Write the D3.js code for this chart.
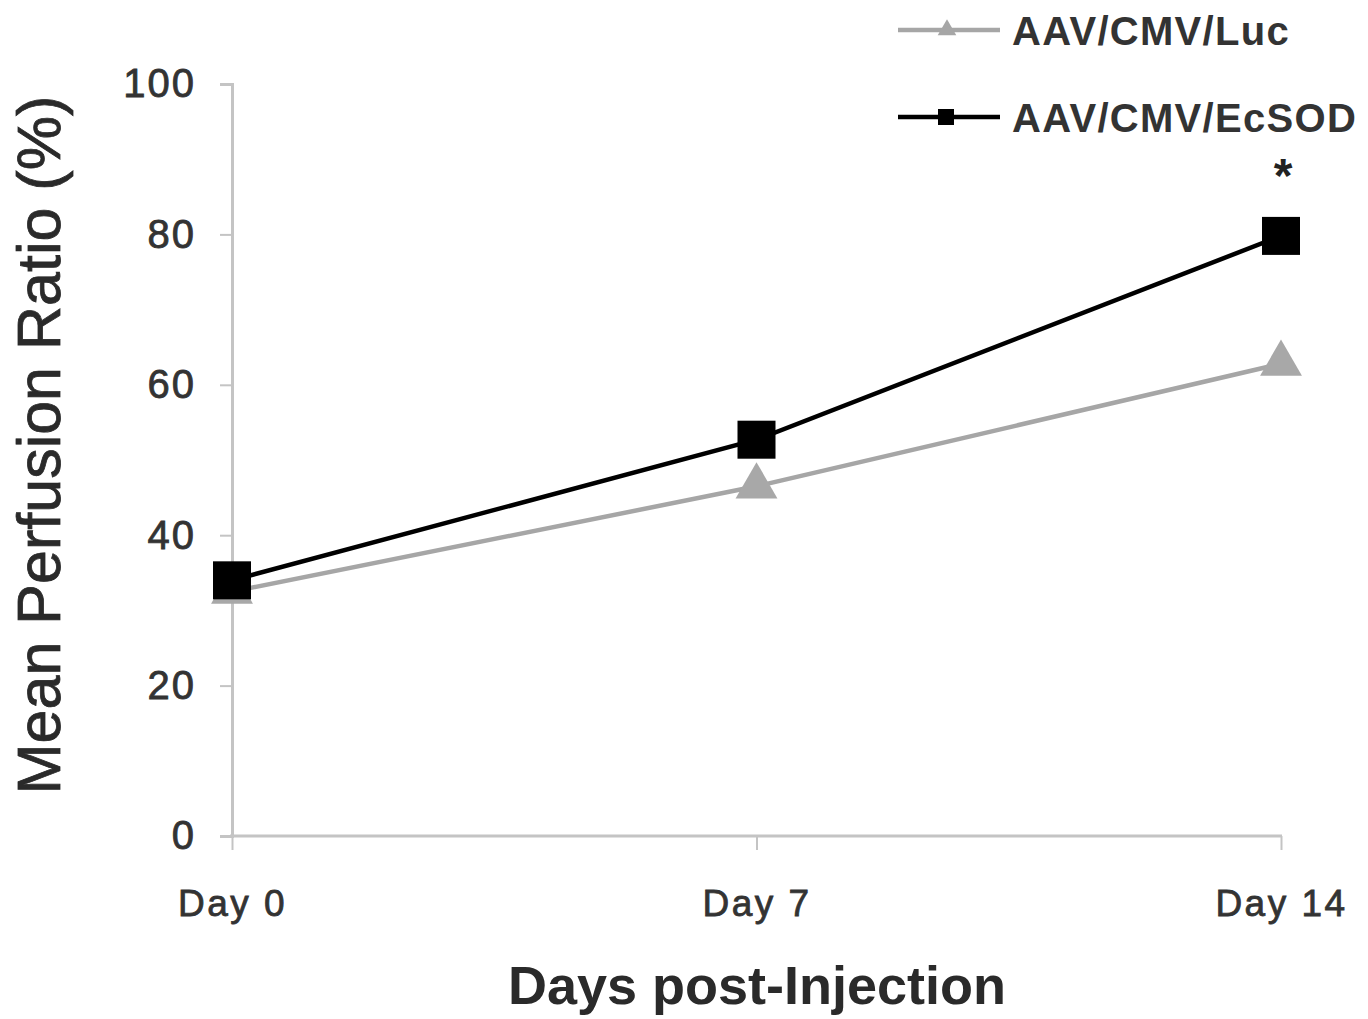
<!DOCTYPE html>
<html>
<head>
<meta charset="utf-8">
<script src="https://cdn.jsdelivr.net/npm/d3@7"></script>
<style>
  body { margin: 0; background: #fff; }
  text { font-family: "Liberation Sans", Arial, sans-serif; }
</style>
</head>
<body>
<script>
// data
const days = ["Day 0", "Day 7", "Day 14"];
const lucValues = [32.5, 46.5, 62.8];
const ecsodValues = [34.0, 52.7, 79.8];
const yTicks = [0, 20, 40, 60, 80, 100];
const seriesNames = ["AAV/CMV/Luc", "AAV/CMV/EcSOD"];

const w = 1368, h = 1019;
const svg = d3.select("body").append("svg").attr("width", w).attr("height", h);

const x = d3.scalePoint().domain(days).range([232, 1281]);
const y = d3.scaleLinear().domain([0, 100]).range([836, 84]);

const axisCol = "#c4c4c4";
const labelCol = "#333";

// y axis
const yAxis = svg.append("g").attr("transform", "translate(232,0)")
  .call(d3.axisLeft(y).tickValues(yTicks).tickSize(12).tickPadding(24));
yAxis.select(".domain").attr("stroke", axisCol).attr("stroke-width", 3);
yAxis.selectAll(".tick line").attr("stroke", axisCol).attr("stroke-width", 2);
yAxis.selectAll(".tick text").attr("fill", labelCol).attr("font-size", 40)
  .attr("font-family", "Liberation Sans, Arial, sans-serif").attr("letter-spacing", 2)
  .attr("stroke", labelCol).attr("stroke-width", 0.8);

// x axis
const xAxis = svg.append("g").attr("transform", "translate(0,836)")
  .call(d3.axisBottom(x).tickSizeInner(14).tickSizeOuter(0).tickPadding(40));
xAxis.select(".domain").attr("stroke", axisCol).attr("stroke-width", 3)
  .attr("d", "M230,0H1282");
xAxis.selectAll(".tick line").attr("stroke", axisCol).attr("stroke-width", 2);
xAxis.selectAll(".tick text").attr("fill", labelCol).attr("font-size", 37)
  .attr("font-family", "Liberation Sans, Arial, sans-serif").attr("letter-spacing", 2.5)
  .attr("stroke", labelCol).attr("stroke-width", 0.8);

// titles
svg.append("text")
  .attr("transform", "translate(60,445) rotate(-90)")
  .attr("text-anchor", "middle")
  .attr("font-size", 61)
  .attr("fill", "#2a2a2a")
  .attr("stroke", "#2a2a2a").attr("stroke-width", 0.8)
  .text("Mean Perfusion Ratio (%)");

svg.append("text")
  .attr("x", 757).attr("y", 1004)
  .attr("text-anchor", "middle")
  .attr("font-size", 54)
  .attr("font-weight", "bold")
  .attr("fill", "#2a2a2a")
  .text("Days post-Injection");

const line = d3.line().x((d, i) => x(days[i])).y(d => y(d));
const tri = d3.symbol().type(d3.symbolTriangle);

// Luc series (gray, triangles)
svg.append("path").datum(lucValues).attr("d", line)
  .attr("fill", "none").attr("stroke", "#a6a6a6").attr("stroke-width", 4.5);
svg.selectAll(".luc").data(lucValues).enter().append("path")
  .attr("class", "luc")
  .attr("transform", (d, i) => `translate(${x(days[i])},${y(d)})`)
  .attr("d", tri.size(760))
  .attr("fill", "#a8a8a8");

// EcSOD series (black, squares)
svg.append("path").datum(ecsodValues).attr("d", line)
  .attr("fill", "none").attr("stroke", "#000").attr("stroke-width", 4.5);
const sq = 38;
svg.selectAll(".ec").data(ecsodValues).enter().append("rect")
  .attr("class", "ec")
  .attr("x", (d, i) => x(days[i]) - sq / 2)
  .attr("y", d => y(d) - sq / 2)
  .attr("width", sq).attr("height", sq)
  .attr("fill", "#000");

// significance marker
svg.append("text")
  .attr("x", x(days[2]) + 2).attr("y", 192)
  .attr("text-anchor", "middle")
  .attr("font-size", 48).attr("font-weight", "bold")
  .attr("fill", "#222")
  .text("*");

// legend
const legend = svg.append("g");
const legY = [30, 117];
const legCols = ["#a6a6a6", "#000"];
legend.selectAll("line").data(seriesNames).enter().append("line")
  .attr("x1", 898).attr("x2", 1000)
  .attr("y1", (d, i) => legY[i]).attr("y2", (d, i) => legY[i])
  .attr("stroke", (d, i) => legCols[i]).attr("stroke-width", 4.5);
legend.append("path")
  .attr("transform", `translate(947,${legY[0]})`)
  .attr("d", d3.symbol().type(d3.symbolTriangle).size(150))
  .attr("fill", legCols[0]);
legend.append("rect")
  .attr("x", 938).attr("y", legY[1] - 8).attr("width", 16).attr("height", 16)
  .attr("fill", "#000");
legend.selectAll("text").data(seriesNames).enter().append("text")
  .attr("x", 1012).attr("y", (d, i) => legY[i] + 15)
  .attr("font-size", 40).attr("font-weight", "bold")
  .attr("letter-spacing", 1.3)
  .attr("fill", "#333")
  .text(d => d);
</script>
</body>
</html>
